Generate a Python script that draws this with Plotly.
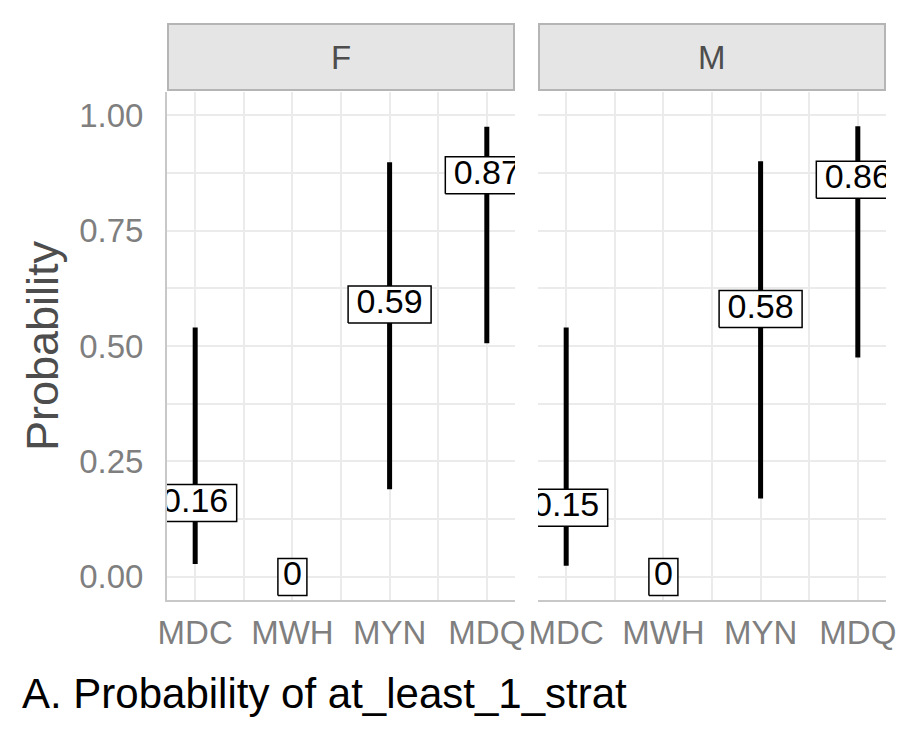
import plotly.graph_objects as go

# ---------------- data ----------------
categories = ["MDC", "MWH", "MYN", "MDQ"]
panels = ["F", "M"]
est_F = [0.16, 0.0, 0.59, 0.87]
lo_F = [0.028, None, 0.19, 0.506]
hi_F = [0.540, None, 0.898, 0.975]
est_M = [0.15, 0.0, 0.58, 0.86]
lo_M = [0.024, None, 0.17, 0.475]
hi_M = [0.540, None, 0.900, 0.976]
y_tick_vals = [0.0, 0.25, 0.5, 0.75, 1.0]
y_tick_labels = ["0.00", "0.25", "0.50", "0.75", "1.00"]
y_title = "Probability"
caption = "A. Probability of at_least_1_strat"

# ---------------- layout geometry ----------------
W, H = 909, 739
OFF = 8  # page body margin
FONT = "Liberation Sans, Arial, sans-serif"
panel_px = [(167, 515), (538, 886)]
top_px, bot_px = 92, 600
y_range = [-0.05, 1.05]
x_range = [-0.29, 3.29]
px_per_x = (panel_px[0][1] - panel_px[0][0]) / (x_range[1] - x_range[0])
px_per_y = (bot_px - top_px) / (y_range[1] - y_range[0])

def px2x(px):
    return (px - OFF) / W

def px2y(py):
    return 1 - (py - OFF) / H

fig = go.Figure()

series = [(est_F, lo_F, hi_F), (est_M, lo_M, hi_M)]
for i, (est, lo, hi) in enumerate(series):
    xa = "x" if i == 0 else "x2"
    ya = "y" if i == 0 else "y2"
    # interval lines
    lx, ly = [], []
    for j, c in enumerate(categories):
        if lo[j] is None:
            continue
        lx += [j, j, None]
        ly += [lo[j], hi[j], None]
    fig.add_trace(go.Scatter(x=lx, y=ly, mode="lines", xaxis=xa, yaxis=ya,
                             line=dict(color="black", width=5), hoverinfo="skip",
                             showlegend=False))
    # label boxes
    bx, by, texts = [], [], []
    for j, c in enumerate(categories):
        t = f"{est[j]:g}"
        texts.append(t)
        wpx = 18.0 * len(t) + 11
        hw = wpx / 2 / px_per_x
        hh = 18.5 / px_per_y
        bx += [j - hw, j + hw, j + hw, j - hw, j - hw, None]
        by += [est[j] - hh, est[j] - hh, est[j] + hh, est[j] + hh, est[j] - hh, None]
    fig.add_trace(go.Scatter(x=bx, y=by, mode="lines", fill="toself", fillcolor="white",
                             xaxis=xa, yaxis=ya, line=dict(color="black", width=1.5),
                             hoverinfo="skip", showlegend=False))
    fig.add_trace(go.Scatter(x=list(range(len(categories))), y=est, mode="text",
                             text=texts, textposition="middle center", cliponaxis=True,
                             textfont=dict(family=FONT, size=34, color="black"),
                             xaxis=xa, yaxis=ya, hoverinfo="skip", showlegend=False))

grid = "#ebebeb"
common_x = dict(range=x_range, tickvals=list(range(len(categories))), ticktext=categories,
                showgrid=True, gridcolor=grid, gridwidth=2, zeroline=False,
                showline=True, linecolor="#c8c8c8", linewidth=2, ticks="",
                ticklabelstandoff=2, automargin=False,
                tickfont=dict(family=FONT, size=33, color="#7f7f7f"),
                minor=dict(tickvals=[0.5, 1.5, 2.5], showgrid=True, gridcolor=grid, gridwidth=2))
common_y = dict(range=y_range, tickvals=y_tick_vals, ticktext=y_tick_labels,
                showgrid=True, gridcolor=grid, gridwidth=2, zeroline=False, ticks="",
                automargin=False,
                tickfont=dict(family=FONT, size=33, color="#7f7f7f"),
                minor=dict(tickvals=[0.125, 0.375, 0.625, 0.875], showgrid=True,
                           gridcolor=grid, gridwidth=2),
                domain=[px2y(bot_px), px2y(top_px)])

fig.update_layout(
    template="none",
    width=W, height=H, margin=dict(l=0, r=0, t=0, b=0, pad=0, autoexpand=False),
    paper_bgcolor="white", plot_bgcolor="white", showlegend=False,
    xaxis=dict(common_x, domain=[px2x(panel_px[0][0]), px2x(panel_px[0][1])], anchor="y"),
    xaxis2=dict(common_x, domain=[px2x(panel_px[1][0]), px2x(panel_px[1][1])], anchor="y2"),
    yaxis=dict(common_y, anchor="x", showline=True, linecolor="#c8c8c8", linewidth=2,
               ticklabelstandoff=15),
    yaxis2=dict(common_y, anchor="x2", showline=False, showticklabels=False),
)

shapes = []
annotations = []
for i, name in enumerate(panels):
    x0, x1 = panel_px[i]
    shapes.append(dict(type="rect", xref="paper", yref="paper",
                       x0=px2x(x0 + 1), x1=px2x(x1 - 1), y0=px2y(90), y1=px2y(24),
                       fillcolor="#e5e5e5", line=dict(color="#b5b5b5", width=2), layer="above"))
    annotations.append(dict(text=name, xref="paper", yref="paper",
                            x=px2x((x0 + x1) / 2), y=px2y(57), showarrow=False,
                            xanchor="center", yanchor="middle",
                            font=dict(family=FONT, size=33, color="#4d4d4d")))
annotations.append(dict(text=y_title, xref="paper", yref="paper", x=px2x(42),
                        y=px2y((top_px + bot_px) / 2), textangle=-90, showarrow=False,
                        xanchor="center", yanchor="middle",
                        font=dict(family=FONT, size=45, color="#4d4d4d")))
annotations.append(dict(text=caption, xref="paper", yref="paper", x=px2x(20),
                        y=px2y(693), showarrow=False, xanchor="left", yanchor="middle",
                        font=dict(family=FONT, size=42, color="black")))
fig.update_layout(shapes=shapes, annotations=annotations)

fig.write_html("out.html")
